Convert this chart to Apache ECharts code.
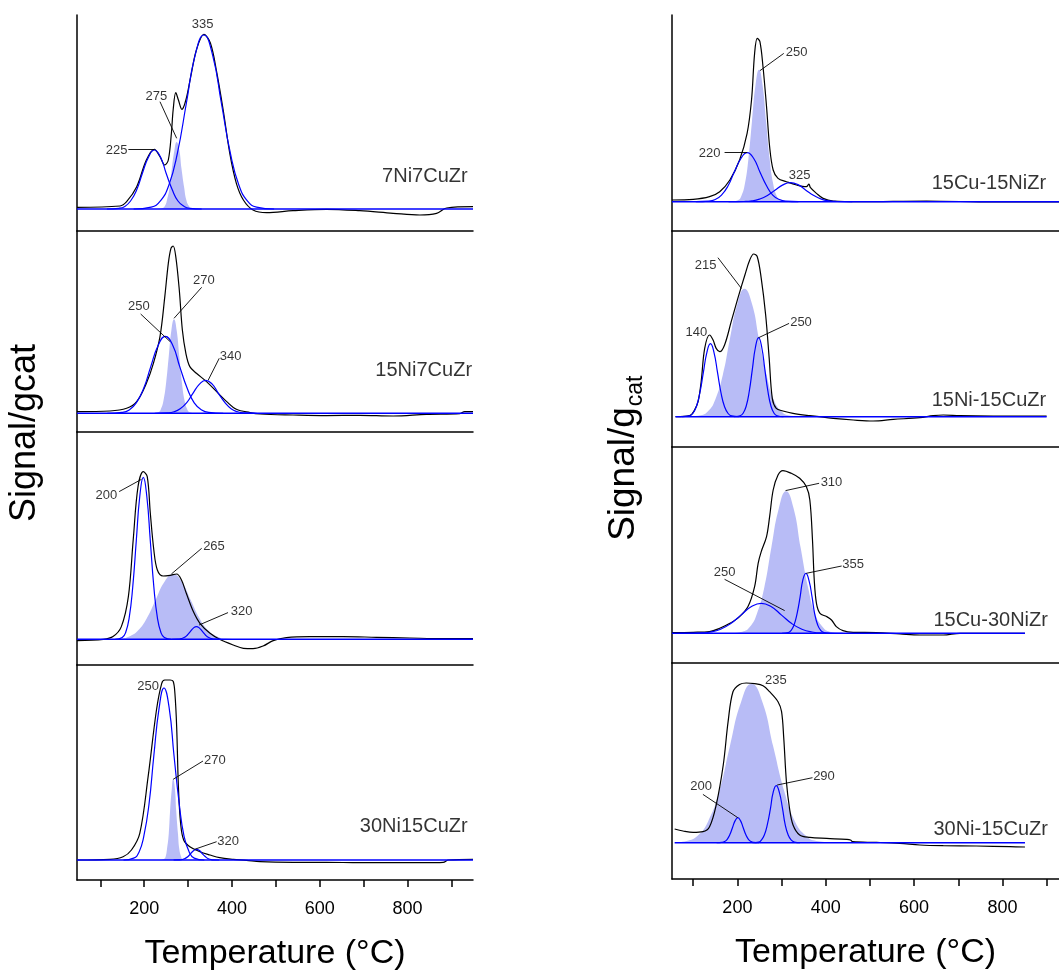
<!DOCTYPE html>
<html><head><meta charset="utf-8">
<script src="https://cdn.jsdelivr.net/npm/echarts@6/dist/echarts.min.js"></script>
<style>html,body{margin:0;padding:0;background:#fff}#chart{width:1059px;height:974px}</style>
</head><body><div id="chart"></div>
<script>
// ---------------- DATA (temperature °C, signal a.u. above baseline) ----------------
const sampleNames = ['7Ni7CuZr','15Ni7CuZr','15Ni15CuZr','30Ni15CuZr','15Cu-15NiZr','15Ni-15CuZr','15Cu-30NiZr','30Ni-15CuZr'];
const tickValues = [100,200,300,400,500,600,700,800,900];
const tickLabels = [200,400,600,800];

// 7Ni7CuZr
const exp_7Ni7CuZr = [[47,1.7],[145,3.0],[160,7.3],[183,22.3],[205,49],[223,59.7],[236,52.3],[247,44],[255,49],[262,75.7],[266,99],[272,116.3],[278,109],[286,99.7],[295,109],[306,132.3],[319,159],[336,174.7],[351,165.7],[365,137.3],[380,99],[395,55.7],[410,25.7],[426,9],[448,-1],[479,-3.7],[539,-1.7],[615,-0.3],[691,-1.7],[767,-4.3],[828,-6],[866,-4.3],[889,1],[949,2.3]];
const fit_7Ni7CuZr_225 = [[115,0],[142,0.7],[156,2.6],[169,8],[183,19.2],[196,35.8],[210,52.1],[223,59],[237,52.1],[250,35.8],[264,19.2],[277,8],[291,2.6],[304,0.7],[331,0]];
const fit_7Ni7CuZr_275 = [[230,0],[241,0.7],[247,2.9],[252,9.1],[258,21.8],[263,40.6],[269,59.1],[274,67],[280,59.1],[285,40.6],[291,21.8],[296,9.1],[302,2.9],[307,0.7],[318,0]];
const fit_7Ni7CuZr_335 = [[176,0],[216,1.9],[236,7.6],[256,23.5],[276,56.5],[296,105.5],[316,153.6],[336,174],[356,153.6],[376,105.5],[396,56.5],[416,23.5],[436,7.6],[456,1.9],[496,0]];

// 15Ni7CuZr
const exp_15Ni7CuZr = [[47,1.7],[122,2.3],[160,5],[183,11.7],[205,30],[221,50],[236,76.7],[247,116.7],[255,150],[261,165],[266,167.3],[272,156.7],[280,123.3],[287,83.3],[295,60],[304,46.7],[319,40],[342,31.7],[365,21.7],[388,11.7],[410,4],[441,0.7],[464,-0.7],[539,-1.7],[615,-2.3],[691,-2],[767,-2.7],[843,-1],[919,-0.3],[930,1.7],[949,1.7]];
const fit_15Ni7CuZr_250 = [[116,0],[149,0.9],[166,3.4],[182,10.4],[199,25],[215,46.7],[232,68],[248,77],[265,68],[281,46.7],[298,25],[314,10.4],[331,3.4],[347,0.9],[380,0]];
const fit_15Ni7CuZr_270 = [[220,0],[232,1],[238,4.1],[244,12.7],[250,30.5],[256,57],[262,83],[268,94],[274,83],[280,57],[286,30.5],[292,12.7],[298,4.1],[304,1],[316,0]];
const fit_15Ni7CuZr_340 = [[224,0],[253,0.4],[268,1.5],[282,4.5],[297,10.7],[311,20],[326,29.1],[340,33],[355,29.1],[369,20],[384,10.7],[398,4.5],[413,1.5],[427,0.4],[456,0]];

// 15Ni15CuZr
const exp_15Ni15CuZr = [[47,-1.3],[107,0],[129,2.7],[148,12.7],[164,42.7],[175,99.3],[186,152.7],[198,167.7],[207,162.7],[214,126],[222,89.3],[230,69.3],[243,63.3],[259,64],[274,65.3],[285,59.3],[296,46],[312,27.7],[327,16],[350,6],[372,0],[403,-5.7],[426,-9],[448,-9.3],[471,-6.7],[494,-1.3],[524,1.7],[577,2.7],[653,2.7],[729,2],[805,1.3],[881,0.7],[949,0.7]];
const fit_15Ni15CuZr_200 = [[134,0],[150,1.8],[158,7.1],[166,21.9],[174,52.6],[182,98.3],[190,143],[198,162],[206,143],[214,98.3],[222,52.6],[230,21.9],[238,7.1],[246,1.8],[262,0]];
const fit_15Ni15CuZr_265 = [[106,0],[146,0.7],[166,2.9],[186,8.8],[206,21.1],[226,39.4],[246,57.4],[266,65],[286,57.4],[306,39.4],[326,21.1],[346,8.8],[366,2.9],[386,0.7],[426,0]];
const fit_15Ni15CuZr_320 = [[263,0],[277,0.1],[284,0.6],[291,1.7],[298,4.1],[305,7.7],[312,11.2],[319,12.7],[326,11.2],[333,7.7],[340,4.1],[347,1.7],[354,0.6],[361,0.1],[375,0]];

// 30Ni15CuZr
const exp_30Ni15CuZr = [[47,0],[122,0.7],[152,3.3],[171,10],[190,26.7],[209,83.3],[228,150],[240,176.7],[247,180],[259,180],[266,178.7],[270,166.7],[274,133.3],[278,73.3],[283,36.7],[290,20],[304,13.3],[327,8.3],[350,5],[372,2.3],[403,0.7],[433,-0.3],[464,-1.7],[539,-2.3],[615,-2.3],[691,-2.7],[767,-2.7],[843,-2.7],[881,-2.3],[893,0],[949,0.7]];
const fit_30Ni15CuZr_250 = [[153,0],[176,1.9],[188,7.6],[199,23.3],[211,55.8],[222,104.3],[234,151.8],[245,172],[257,151.8],[268,104.3],[280,55.8],[291,23.3],[303,7.6],[314,1.9],[337,0]];
const fit_30Ni15CuZr_270 = [[238,0],[245,0.9],[249,3.6],[252,11],[256,26.3],[259,49.1],[263,71.5],[266,81],[270,71.5],[273,49.1],[277,26.3],[280,11],[284,3.6],[287,0.9],[294,0]];
const fit_30Ni15CuZr_320 = [[267,0],[280,0.1],[287,0.5],[293,1.5],[300,3.5],[306,6.5],[313,9.4],[319,10.7],[326,9.4],[332,6.5],[339,3.5],[345,1.5],[352,0.5],[358,0.1],[371,0]];

// 15Cu-15NiZr
const exp_15Cu_15NiZr = [[52,1.7],[100,2.3],[137,5],[160,10],[183,21.7],[205,41.7],[222,68.3],[232,101.7],[239,148.3],[245,163.3],[251,160],[258,135],[266,95],[273,55],[281,31.7],[292,23.3],[311,20],[334,16.7],[356,15],[362,17.7],[365,14.3],[379,8.3],[394,3.3],[417,0.7],[477,0],[628,0.7],[779,-0.3],[855,0],[928,-0.3]];
const fit_15Cu_15NiZr_220 = [[106,0],[135,0.5],[150,2.2],[164,6.6],[179,15.9],[193,29.7],[208,43.2],[222,49],[237,43.2],[251,29.7],[266,15.9],[280,6.6],[295,2.2],[309,0.5],[338,0]];
const fit_15Cu_15NiZr_250 = [[185,0],[201,1.5],[209,5.8],[217,17.9],[225,42.9],[233,80.1],[241,116.5],[249,132],[257,116.5],[265,80.1],[273,42.9],[281,17.9],[289,5.8],[297,1.5],[313,0]];
const fit_15Cu_15NiZr_325 = [[180,0],[215,0.2],[233,0.8],[250,2.6],[268,6.2],[285,11.5],[303,16.8],[320,19],[338,16.8],[355,11.5],[373,6.2],[390,2.6],[408,0.8],[425,0.2],[460,0]];

// 15Ni-15CuZr
const exp_15Ni_15CuZr = [[60,0],[92,1],[103,6.7],[111,15],[118,35],[126,68.3],[137,81.7],[145,76.7],[152,68.3],[160,65],[171,71.7],[186,95],[201,118.3],[217,141.7],[228,156.7],[237,162.7],[245,160],[254,138.3],[264,101.7],[272,58.3],[279,18.3],[288,8.3],[303,5.7],[326,3.3],[364,1],[417,-1.7],[462,-3.3],[507,-4.3],[553,-2.7],[613,-1],[643,1],[666,1.7],[704,1],[779,0.7],[900,0.7]];
const fit_15Ni_15CuZr_140 = [[75,0],[91,0.8],[99,3.2],[107,9.9],[115,23.7],[123,44.3],[131,64.4],[139,73],[147,64.4],[155,44.3],[163,23.7],[171,9.9],[179,3.2],[187,0.8],[203,0]];
const fit_15Ni_15CuZr_215 = [[84,0],[117,1.4],[134,5.6],[150,17.3],[167,41.6],[183,77.6],[200,113],[216,128],[233,113],[249,77.6],[266,41.6],[282,17.3],[299,5.6],[315,1.4],[348,0]];
const fit_15Ni_15CuZr_250 = [[192,0],[206,0.9],[213,3.5],[220,10.7],[227,25.7],[234,47.9],[241,69.7],[248,79],[255,69.7],[262,47.9],[269,25.7],[276,10.7],[283,3.5],[290,0.9],[304,0]];

// 15Cu-30NiZr
const exp_15Cu_30NiZr = [[52,0.7],[100,1],[137,1.7],[160,5],[183,10],[205,16.7],[224,26.7],[239,46.7],[247,70],[254,81.7],[266,96.7],[273,116.7],[281,143.3],[292,158.3],[303,162.7],[322,160],[341,155],[356,146.7],[364,133.3],[370,93.3],[374,53.3],[379,30],[387,20],[402,16.7],[413,13.3],[424,6.7],[439,2.7],[462,1],[515,0.7],[568,-0.7],[613,-1.7],[666,-1.7],[704,0],[779,0],[851,0]];
const fit_15Cu_30NiZr_250 = [[70,0],[116,0.3],[139,1.3],[162,4.1],[185,9.7],[208,18.2],[231,26.5],[254,30],[277,26.5],[300,18.2],[323,9.7],[346,4.1],[369,1.3],[392,0.3],[438,0]];
const fit_15Cu_30NiZr_310 = [[178,0],[211,1.6],[228,6.2],[244,19.2],[261,46.1],[277,86.1],[294,125.3],[310,142],[327,125.3],[343,86.1],[360,46.1],[376,19.2],[393,6.2],[409,1.6],[442,0]];
const fit_15Cu_30NiZr_355 = [[301,0],[315,0.7],[321,2.6],[328,8.1],[335,19.5],[342,36.4],[348,53],[355,60],[362,53],[369,36.4],[375,19.5],[382,8.1],[389,2.6],[396,0.7],[409,0]];

// 30Ni-15CuZr
const exp_30Ni_15CuZr = [[58,13.7],[77,11.7],[100,10.3],[122,11],[137,16],[152,37.7],[168,77.7],[179,121],[190,151],[205,158.3],[220,159.7],[239,159],[258,157],[273,151],[292,141],[300,131],[305,104.3],[311,61],[318,34.3],[326,17.7],[341,7.7],[364,5.3],[402,4.3],[447,3.3],[456,2.7],[461,1],[515,0.3],[568,-0.7],[613,-2.3],[666,-3],[741,-3.3],[817,-4],[851,-4.3]];
const fit_30Ni_15CuZr_200 = [[153,0],[165,0.3],[171,1.1],[177,3.4],[183,8.1],[189,15.2],[195,22.1],[201,25],[207,22.1],[213,15.2],[219,8.1],[225,3.4],[231,1.1],[237,0.3],[249,0]];
const fit_30Ni_15CuZr_235 = [[58,0.3],[85,1.8],[110,7],[134,21.5],[159,51.6],[183,96.4],[208,140.3],[232,159],[257,140.3],[281,96.4],[306,51.6],[330,21.5],[355,7],[379,1.8],[428,0]];
const fit_30Ni_15CuZr_290 = [[234,0],[248,0.6],[254,2.5],[261,7.7],[268,18.5],[275,34.6],[281,50.3],[288,57],[295,50.3],[302,34.6],[308,18.5],[315,7.7],[322,2.5],[329,0.6],[342,0]];

// baseline extents (°C)
const baselineRanges = [[47,949],[47,949],[47,949],[47,949],[52,928],[60,900],[52,851],[58,851]];
// value ranges of each panel (a.u.)
const yRanges = [[-22,194],[-18.7,182.3],[-25.7,207.3],[-20,195],[-29.3,186.7],[-30.3,185.7],[-29.7,186.3],[-36.3,179.7]];
// peak annotations: [text, labelT, labelV, leaderFromT, leaderFromV, leaderToT, leaderToV]
const notes_7Ni7CuZr = [['225',137,59,164,59.7,223,59.7],['275',228,113,236,107.3,274,70.7],['335',333,185]];
const notes_15Ni7CuZr = [['250',188,106.7,192,99.3,259,71.7],['270',336,133.3,331,126,268,95],['340',397,56.7,371,55,346,33.3]];
const notes_15Ni15CuZr = [['200',114,143.7,143,147.7,194,160],['265',359,93.3,331,91,262,65.3],['320',422,27.7,391,26.7,325,14.3]];
const notes_30Ni15CuZr = [['250',209,174],['270',361,100,334,99,266,80.7],['320',391,18.3,365,18.3,315,10.7]];
const notes_15Cu_15NiZr = [['220',137,48.3,171,49,222,49],['250',334,149.3,305,148.3,251,131],['325',341,26.7]];
const notes_15Ni_15CuZr = [['215',128,151,156,159,209,128.3],['140',107,84.3],['250',344,94.3,317,93.3,248,79]];
const notes_15Cu_30NiZr = [['310',413,150.7,385,150,309,142.7],['355',462,69,436,67.3,356,60],['250',171,61,171,54,307,22.7]];
const notes_30Ni_15CuZr = [['235',287,162.7],['200',118,56.7,122,48.3,201,25],['290',396,66,370,65,290,57.7]];
// sample-name anchors (right end): [T, V]
const nameAnchors = [[938,32.3],[948,43.3],[955,44.3],[938,33.3],[900,18.3],[900,16.7],[904,13.3],[904,13.7]];

// ---------------- LAYOUT ----------------
const FONT = 'Liberation Sans, Arial, sans-serif';
const BLUE = '#0000ff';
const FILL = '#b8bcf6';
const columns = [
  {left:77, width:396, xmin:47, xmax:949, tops:[15,231,432,665], heights:[216,201,233,215]},
  {left:672, width:387, xmin:52, xmax:928, tops:[15,231,447,663], heights:[216,216,216,216]}
];

const panels = [
  {exp:exp_7Ni7CuZr, fits:[fit_7Ni7CuZr_225, fit_7Ni7CuZr_335], filled:[fit_7Ni7CuZr_275], notes:notes_7Ni7CuZr},
  {exp:exp_15Ni7CuZr, fits:[fit_15Ni7CuZr_250, fit_15Ni7CuZr_340], filled:[fit_15Ni7CuZr_270], notes:notes_15Ni7CuZr},
  {exp:exp_15Ni15CuZr, fits:[fit_15Ni15CuZr_200, fit_15Ni15CuZr_320], filled:[fit_15Ni15CuZr_265], notes:notes_15Ni15CuZr},
  {exp:exp_30Ni15CuZr, fits:[fit_30Ni15CuZr_250, fit_30Ni15CuZr_320], filled:[fit_30Ni15CuZr_270], notes:notes_30Ni15CuZr},
  {exp:exp_15Cu_15NiZr, fits:[fit_15Cu_15NiZr_220, fit_15Cu_15NiZr_325], filled:[fit_15Cu_15NiZr_250], notes:notes_15Cu_15NiZr},
  {exp:exp_15Ni_15CuZr, fits:[fit_15Ni_15CuZr_140, fit_15Ni_15CuZr_250], filled:[fit_15Ni_15CuZr_215], notes:notes_15Ni_15CuZr},
  {exp:exp_15Cu_30NiZr, fits:[fit_15Cu_30NiZr_250, fit_15Cu_30NiZr_355], filled:[fit_15Cu_30NiZr_310], notes:notes_15Cu_30NiZr},
  {exp:exp_30Ni_15CuZr, fits:[fit_30Ni_15CuZr_200, fit_30Ni_15CuZr_290], filled:[fit_30Ni_15CuZr_235], notes:notes_30Ni_15CuZr}
];

const grids = [], xAxes = [], yAxes = [], series = [];
panels.forEach((p, i) => {
  const col = i < 4 ? 0 : 1, row = i % 4;
  const C = columns[col];
  const bottom = row === 3;
  grids.push({left:C.left, top:C.tops[row], width:C.width, height:C.heights[row]});
  xAxes.push({
    type:'value', gridIndex:i, min:C.xmin, max:C.xmax,
    axisLine:{show:true, onZero:false, lineStyle:{color:'#000', width:1.5}},
    axisTick: bottom ? {show:true, customValues:tickValues, length:7, inside:false, lineStyle:{color:'#000', width:1.5}} : {show:false},
    axisLabel: bottom ? {show:true, customValues:tickLabels, margin:20, fontSize:18, color:'#000', fontFamily:FONT} : {show:false},
    splitLine:{show:false},
    name: bottom ? 'Temperature (°C)' : '',
    nameLocation:'middle', nameGap:57,
    nameTextStyle:{fontSize:34, color:'#000', fontFamily:FONT}
  });
  yAxes.push({
    type:'value', gridIndex:i, min:yRanges[i][0], max:yRanges[i][1],
    axisLine:{show:true, onZero:false, lineStyle:{color:'#000', width:1.5}},
    axisTick:{show:false}, axisLabel:{show:false}, splitLine:{show:false}
  });
  const ax = {xAxisIndex:i, yAxisIndex:i, silent:true, animation:false};
  p.filled.forEach(d => series.push(Object.assign({type:'line', data:d, smooth:0.5, symbol:'none',
    lineStyle:{width:0}, areaStyle:{color:FILL, opacity:1, origin:0}, z:1}, ax)));
  series.push(Object.assign({type:'line', data:p.exp, smooth:0.35, symbol:'none',
    lineStyle:{color:'#000', width:1.2}, z:3}, ax));
  series.push(Object.assign({type:'line', data:[[baselineRanges[i][0],0],[baselineRanges[i][1],0]], symbol:'none',
    lineStyle:{color:BLUE, width:1.4}, z:4}, ax));
  p.fits.forEach(d => series.push(Object.assign({type:'line', data:d, smooth:0.5, symbol:'none',
    lineStyle:{color:BLUE, width:1.2}, z:4}, ax)));
  series.push(Object.assign({type:'lines', coordinateSystem:'cartesian2d', polyline:false,
    data:p.notes.filter(n => n.length > 3).map(n => ({coords:[[n[3],n[4]],[n[5],n[6]]]})),
    lineStyle:{color:'#000', width:0.9, opacity:1}, z:5}, ax));
  series.push(Object.assign({type:'scatter', symbolSize:1, itemStyle:{color:'rgba(0,0,0,0)'},
    data:p.notes.map(n => ({name:n[0], value:[n[1],n[2]]})),
    label:{show:true, position:'inside', formatter:'{b}', fontSize:13, color:'#000', fontFamily:FONT}, z:6}, ax));
  series.push(Object.assign({type:'scatter', symbolSize:1, itemStyle:{color:'rgba(0,0,0,0)'},
    data:[{name:sampleNames[i], value:nameAnchors[i]}],
    label:{show:true, position:'left', distance:0, formatter:'{b}', fontSize:20, color:'#000', fontFamily:FONT}, z:6}, ax));
});

const chart = echarts.init(document.getElementById('chart'), null, {renderer:'canvas'});
chart.setOption({
  backgroundColor:'#fff',
  animation:false,
  grid:grids, xAxis:xAxes, yAxis:yAxes, series:series,
  graphic:[
    {type:'text', x:25, y:433, rotation:Math.PI/2,
      style:{text:'Signal/gcat', font:'36px ' + FONT, fill:'#000', align:'center', verticalAlign:'middle', textAlign:'center', textVerticalAlign:'middle'}},
    {type:'text', x:624, y:474, rotation:Math.PI/2,
      style:{text:'Signal/g', font:'37px ' + FONT, fill:'#000', align:'center', verticalAlign:'middle', textAlign:'center', textVerticalAlign:'middle'}},
    {type:'text', x:636, y:391, rotation:Math.PI/2,
      style:{text:'cat', font:'23px ' + FONT, fill:'#000', align:'center', verticalAlign:'middle', textAlign:'center', textVerticalAlign:'middle'}}
  ]
});
</script>
</body></html>
